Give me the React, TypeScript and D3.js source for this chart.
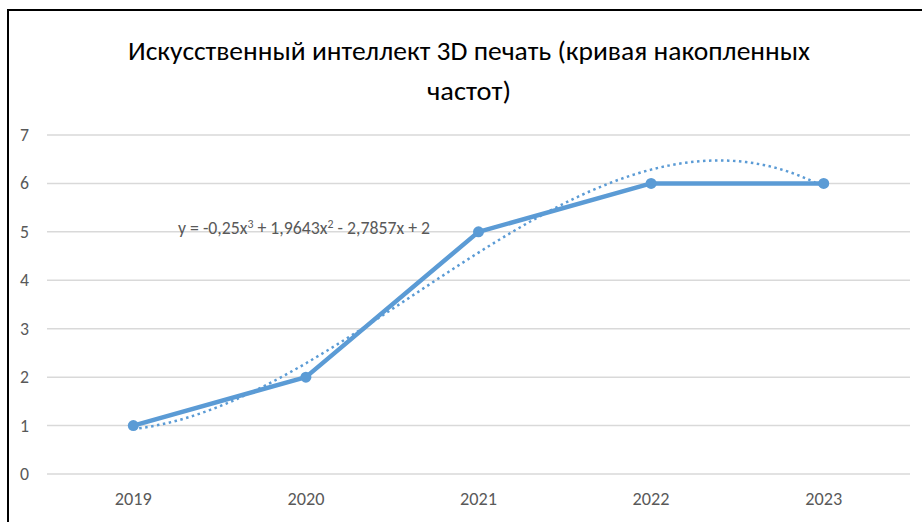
import { useEffect, useRef } from 'react';
import * as d3 from 'd3';

const years = ['2019', '2020', '2021', '2022', '2023'];
const values = [1, 2, 5, 6, 6];
const yTicks = [0, 1, 2, 3, 4, 5, 6, 7];
// polynomial trendline coefficients shown on the chart (x = 1..n)
const trendCoef = [-0.25, 1.9643, -2.7857, 2];
const titleLines = ['Искусственный интеллект 3D печать (кривая накопленных', 'частот)'];

export default function App() {
  const ref = useRef<SVGSVGElement>(null);

  useEffect(() => {
    if (!ref.current) return;
    const svg = d3.select(ref.current);
    svg.selectAll('*').remove();

    const width = 922;
    const height = 522;
    const left = 47;
    const right = 910;
    const top = 135;
    const bottom = 474;
    const font = "Carlito, Calibri, 'Liberation Sans Narrow', 'Open Sans', sans-serif";
    const blue = '#5B9BD5';
    const grey = '#595959';

    svg.append('rect').attr('width', width).attr('height', height).attr('fill', '#fff');

    // frame (only top and left edges are visible)
    svg.append('line').attr('x1', 7).attr('x2', width).attr('y1', 10).attr('y2', 10)
      .attr('stroke', '#000').attr('stroke-width', 2);
    svg.append('line').attr('x1', 8).attr('x2', 8).attr('y1', 9).attr('y2', height)
      .attr('stroke', '#000').attr('stroke-width', 2);

    const x = d3.scaleBand().domain(years).range([left, right]);
    const y = d3.scaleLinear().domain([0, 7]).range([bottom, top]);
    const cx = (i: number) => x(years[i])! + x.bandwidth() / 2;

    // title
    const titleWidths = [682, 84];
    titleLines.forEach((t, i) => {
      svg.append('text')
        .attr('x', 469)
        .attr('y', 60 + i * 40)
        .attr('text-anchor', 'middle')
        .attr('font-family', font)
        .attr('font-size', 27)
        .attr('fill', '#000')
        .attr('textLength', titleWidths[i])
        .attr('lengthAdjust', 'spacingAndGlyphs')
        .text(t);
    });

    // grid
    svg.append('g').selectAll('line').data(yTicks).join('line')
      .attr('x1', left).attr('x2', right)
      .attr('y1', (d) => y(d)).attr('y2', (d) => y(d))
      .attr('stroke', '#d9d9d9').attr('stroke-width', 1.5);

    // y labels
    svg.append('g').selectAll('text').data(yTicks).join('text')
      .attr('x', 29).attr('y', (d) => y(d) + 6)
      .attr('text-anchor', 'end')
      .attr('font-family', font).attr('font-size', 19).attr('fill', grey)
      .attr('textLength', 9).attr('lengthAdjust', 'spacingAndGlyphs')
      .text((d) => d);

    // x labels
    svg.append('g').selectAll('text').data(years).join('text')
      .attr('x', (d) => x(d)! + x.bandwidth() / 2).attr('y', bottom + 31)
      .attr('text-anchor', 'middle')
      .attr('font-family', font).attr('font-size', 19).attr('fill', grey)
      .attr('textLength', 37).attr('lengthAdjust', 'spacingAndGlyphs')
      .text((d) => d);

    // trendline
    const poly = (t: number) => trendCoef.reduce((acc, c) => acc * t + c, 0);
    const tx = d3.scaleLinear().domain([1, years.length]).range([cx(0), cx(years.length - 1)]);
    const trendPts = d3.range(1, years.length + 0.001, 0.05).map((t) => [tx(t), y(poly(t))] as [number, number]);
    svg.append('path')
      .attr('d', d3.line().curve(d3.curveBasis)(trendPts))
      .attr('fill', 'none')
      .attr('stroke', blue)
      .attr('stroke-width', 2.5)
      .attr('stroke-dasharray', '2.5 3.5');

    // series line
    const line = d3.line<number>().x((_, i) => cx(i)).y((d) => y(d));
    svg.append('path')
      .datum(values)
      .attr('d', line)
      .attr('fill', 'none')
      .attr('stroke', blue)
      .attr('stroke-width', 4.5)
      .attr('stroke-linejoin', 'round');

    svg.append('g').selectAll('circle').data(values).join('circle')
      .attr('cx', (_, i) => cx(i)).attr('cy', (d) => y(d))
      .attr('r', 5.5).attr('fill', blue);

    // equation label
    const eq = svg.append('text')
      .attr('x', 178).attr('y', 234)
      .attr('font-family', font).attr('font-size', 18).attr('fill', grey)
      .attr('textLength', 252).attr('lengthAdjust', 'spacingAndGlyphs');
    eq.append('tspan').text('y = -0,25x');
    eq.append('tspan').attr('dy', -6).attr('font-size', 12).text('3');
    eq.append('tspan').attr('dy', 6).text(' + 1,9643x');
    eq.append('tspan').attr('dy', -6).attr('font-size', 12).text('2');
    eq.append('tspan').attr('dy', 6).text(' - 2,7857x + 2');
  }, []);

  return (
    <svg ref={ref} width={922} height={522} style={{ position: 'absolute', left: 0, top: 0 }} />
  );
}
